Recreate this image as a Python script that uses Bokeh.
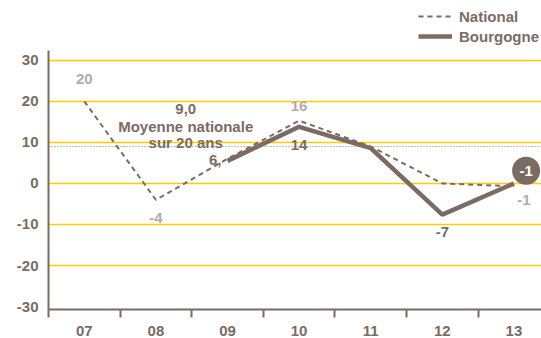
import numpy as np
from bokeh.plotting import figure
from bokeh.layouts import column
from bokeh.models import FixedTicker, Span, Legend, LegendItem, ColumnDataSource, Range1d
from bokeh.core.properties import value
from bokeh.embed import file_html
from bokeh.resources import INLINE

# ---- data ----
years = ["07", "08", "09", "10", "11", "12", "13"]
national = [20, -4, 6, 15.3, 9, 0, -0.7]
bourgogne = [np.nan, np.nan, 5.5, 13.8, 8.6, -7.6, 0]
national_labels = ["20", "-4", "", "16", "", "", "-1"]
bourgogne_labels = ["", "", "6,", "14", "", "-7", ""]
bourgogne_last_label = "-1"
average_value = 9.0
average_label = "9,0"
average_text = "Moyenne nationale\nsur 20 ans"
y_ticks = [-30, -20, -10, 0, 10, 20, 30]
y_tick_labels = ["-30", "-20", "-10", "0", "10", "20", "30"]
series_names = ["National", "Bourgogne"]

# ---- styles ----
BROWN = "#7b6b63"
GREY = "#b3aba6"
GOLD = "#ffcc00"
FONT = value("Liberation Sans")
FS = "15px"
NAT_STYLE = dict(line_color=BROWN, line_width=2, line_dash="5 4")
BOUR_STYLE = dict(line_color=BROWN, line_width=4.5)

x = list(range(len(years)))

# ---------- legend strip on top ----------
top = figure(width=541, height=50, output_backend="svg", toolbar_location=None,
             x_range=Range1d(0, 1), y_range=Range1d(0, 1),
             min_border=0, x_axis_type=None, y_axis_type=None)
top.outline_line_color = None
top.grid.visible = False
# hidden proxy renderers (outside the visible range) that only feed the legend
ln1 = top.line(x=[5, 6], y=[5, 5], **NAT_STYLE)
ln2 = top.line(x=[5, 6], y=[5, 5], **BOUR_STYLE)
legend = Legend(items=[LegendItem(label=series_names[0], renderers=[ln1]),
                       LegendItem(label=series_names[1], renderers=[ln2])],
                location=(370, 4), orientation="vertical",
                glyph_width=34, glyph_height=20, label_height=20, spacing=0,
                padding=0, margin=0, label_standoff=7,
                label_text_font="Liberation Sans", label_text_font_size=FS,
                label_text_font_style="bold", label_text_color=BROWN,
                label_text_baseline="middle",
                background_fill_alpha=0, border_line_color=None)
top.add_layout(legend)

# ---------- main chart ----------
p = figure(width=541, height=288, output_backend="svg", toolbar_location=None,
           x_range=Range1d(-0.5, 6.385), y_range=Range1d(-30.72, 32.4),
           min_border_left=48, min_border_right=0, min_border_top=0, min_border_bottom=25)
p.outline_line_color = None
p.background_fill_color = "white"
p.border_fill_color = "white"

# x axis
p.xaxis.ticker = FixedTicker(ticks=x, minor_ticks=[i - 0.5 for i in x])
p.xaxis.major_label_overrides = {i: y for i, y in zip(x, years)}
p.xaxis.major_tick_out = 0
p.xaxis.major_tick_in = 0
p.xaxis.minor_tick_out = 8
p.xaxis.minor_tick_in = 0
p.xaxis.minor_tick_line_color = BROWN
p.xaxis.minor_tick_line_width = 2
p.xaxis.axis_line_color = BROWN
p.xaxis.axis_line_width = 2
p.xaxis.major_label_standoff = 8
p.xaxis.major_label_text_font = "Liberation Sans"
p.xaxis.major_label_text_font_size = FS
p.xaxis.major_label_text_font_style = "bold"
p.xaxis.major_label_text_color = BROWN

# y axis
p.yaxis.ticker = FixedTicker(ticks=y_ticks)
p.yaxis.major_label_overrides = {t: s for t, s in zip(y_ticks, y_tick_labels)}
p.yaxis.major_tick_out = 0
p.yaxis.major_tick_in = 0
p.yaxis.minor_tick_line_color = None
p.yaxis.axis_line_color = BROWN
p.yaxis.axis_line_width = 2
p.yaxis.major_label_standoff = 10
p.yaxis.major_label_text_font = "Liberation Sans"
p.yaxis.major_label_text_font_size = FS
p.yaxis.major_label_text_font_style = "bold"
p.yaxis.major_label_text_color = BROWN

p.xgrid.visible = False
p.ygrid.ticker = FixedTicker(ticks=[t for t in y_ticks if t > -30])
p.ygrid.grid_line_color = GOLD
p.ygrid.grid_line_width = 1.5

# average line
p.add_layout(Span(location=average_value, dimension="width", line_color="#8a817c",
                  line_dash="1 2", line_width=1))

nat = p.line(x, national, **NAT_STYLE)
bour = p.line(x, bourgogne, **BOUR_STYLE)

# value labels
nat_dx = [0, 0, 0, 0, 0, 0, 10]
nat_dy = [-22, 18, 0, -15, 0, 0, 14]
nsrc = ColumnDataSource(dict(x=x, y=national, t=national_labels, dx=nat_dx, dy=nat_dy))
p.text(x="x", y="y", text="t", x_offset="dx", y_offset="dy", source=nsrc,
       text_font=FONT, text_font_size=FS, text_font_style="bold", text_color=GREY,
       text_align="center", text_baseline="middle")

b_y = [0 if np.isnan(v) else v for v in bourgogne]
b_dx = [0, 0, -6, 0, 0, 0, 0]
b_dy = [0, 0, -1, 18, 0, 17, 0]
b_align = ["center", "center", "right", "center", "center", "center", "center"]
bsrc = ColumnDataSource(dict(x=x, y=b_y, t=bourgogne_labels, dx=b_dx, dy=b_dy, a=b_align))
p.text(x="x", y="y", text="t", x_offset="dx", y_offset="dy", text_align="a", source=bsrc,
       text_font=FONT, text_font_size=FS, text_font_style="bold", text_color=BROWN,
       text_baseline="middle")

# circled last value
cx = x[-1] + 0.17
cy = bourgogne[-1] + 3.1
p.scatter(x=[cx], y=[cy], size=28, marker="circle", fill_color=BROWN, line_color=None)
p.text(x=[cx], y=[cy], text=[bourgogne_last_label], text_font=FONT, text_font_size=FS,
       text_font_style="bold", text_color="white", text_align="center", text_baseline="middle")

# average annotation
p.text(x=[1.5], y=[average_value], text=[average_text], x_offset=-6, y_offset=4,
       text_font=FONT, text_font_size=FS, text_font_style="bold", text_color=BROWN,
       text_align="center", text_baseline="bottom", text_line_height=0.93)
p.text(x=[1.5], y=[average_value], text=[average_label], x_offset=-6, y_offset=-38,
       text_font=FONT, text_font_size=FS, text_font_style="bold", text_color=BROWN,
       text_align="center", text_baseline="middle")

layout = column(top, p, spacing=0)
open("out.html", "w").write(file_html(layout, INLINE))
